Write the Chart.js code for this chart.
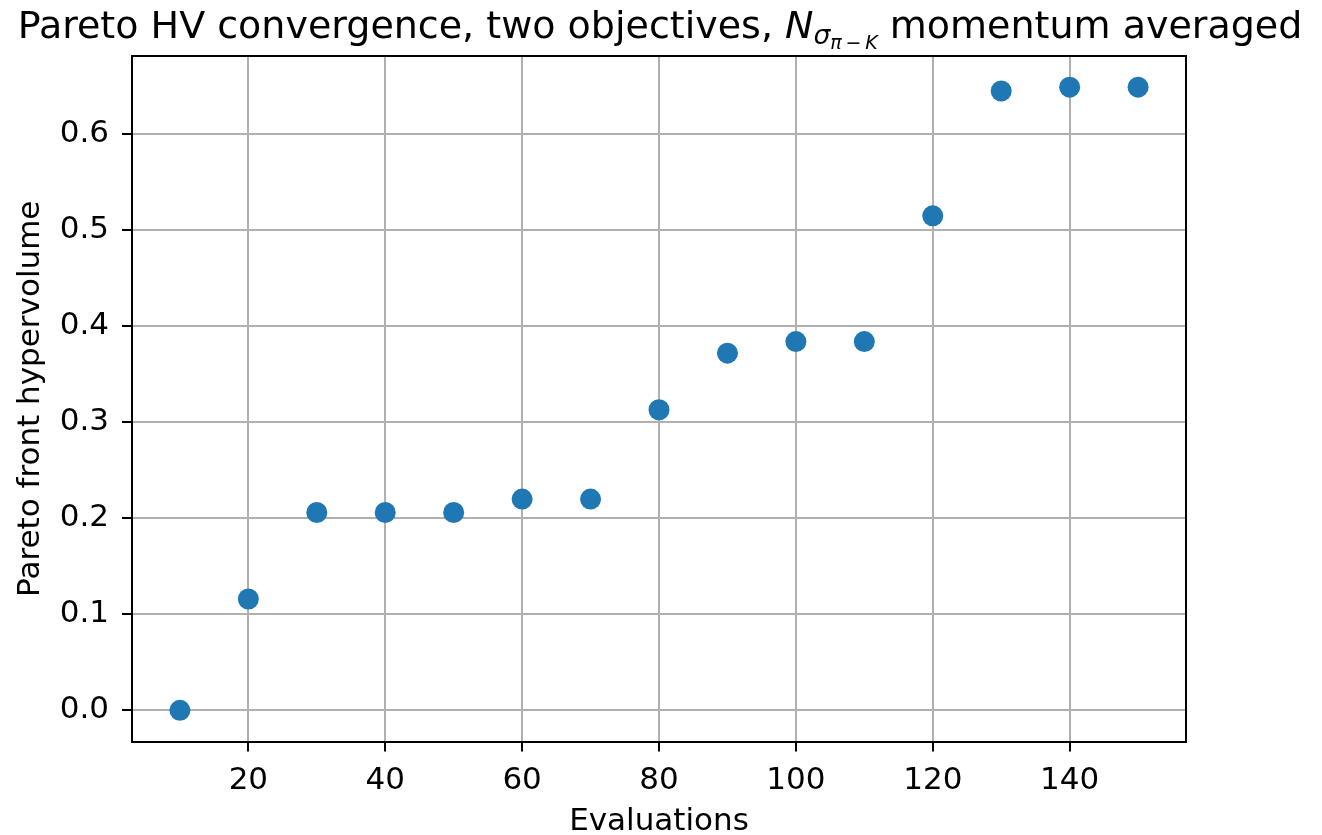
<!DOCTYPE html>
<html>
<head>
<meta charset="utf-8">
<script src="https://cdn.jsdelivr.net/npm/chart.js@4"></script>
<style>
  html, body { margin: 0; padding: 0; background: #ffffff; }
  #wrap { width: 1322px; height: 835px; }
</style>
</head>
<body>
<div id="wrap"><canvas id="c" width="1322" height="835"></canvas></div>
<script>
// ---- data ----
const evaluations = [10, 20, 30, 40, 50, 60, 70, 80, 90, 100, 110, 120, 130, 140, 150];
const hypervolume = [0.000, 0.116, 0.206, 0.206, 0.206, 0.220, 0.220, 0.313, 0.372, 0.384, 0.384, 0.515, 0.645, 0.649, 0.649];
const xTicks = [20, 40, 60, 80, 100, 120, 140];
const yTicks = [0.0, 0.1, 0.2, 0.3, 0.4, 0.5, 0.6];
const titleParts = ["Pareto HV convergence, two objectives, ", "N", "σ", "π\u2009−\u2009K", " momentum averaged"];
const xLabel = "Evaluations";
const yLabel = "Pareto front hypervolume";

// matplotlib-style 5% margins
const xMinD = Math.min(...evaluations), xMaxD = Math.max(...evaluations);
const yMinD = Math.min(...hypervolume), yMaxD = Math.max(...hypervolume);
const xPad = (xMaxD - xMinD) * 0.05, yPad = (yMaxD - yMinD) * 0.05;

const FONT = "'DejaVu Sans', sans-serif";
const FS = 31;

const framePlugin = {
  id: 'frame',
  afterDatasetsDraw(chart) {
    const {ctx, chartArea: a} = chart;
    ctx.save();
    ctx.strokeStyle = '#000';
    ctx.lineWidth = 2;
    ctx.beginPath();
    ctx.moveTo(a.left, a.top);
    ctx.lineTo(a.right, a.top);
    ctx.lineTo(a.right, a.bottom);
    ctx.stroke();
    ctx.restore();
  }
};

const mathTitlePlugin = {
  id: 'mathTitle',
  afterDraw(chart) {
    const ctx = chart.ctx;
    const size = 38;
    const baseline = 37.5;
    const fNorm = size + "px " + FONT;
    const fIt = "oblique " + size + "px " + FONT;
    const fSub = "oblique " + (size * 0.7).toFixed(1) + "px " + FONT;
    const fSub2 = "oblique " + (size * 0.5).toFixed(1) + "px " + FONT;
    const pieces = [
      {t: titleParts[0], f: fNorm, dy: 0},
      {t: titleParts[1], f: fIt, dy: 0},
      {t: titleParts[2], f: fSub, dy: 6},
      {t: titleParts[3], f: fSub2, dy: 11},
      {t: titleParts[4], f: fNorm, dy: 0}
    ];
    ctx.save();
    let total = 0;
    pieces.forEach(p => { ctx.font = p.f; p.w = ctx.measureText(p.t).width; total += p.w; });
    let x = 660 - total / 2;
    ctx.fillStyle = '#000';
    ctx.textBaseline = 'alphabetic';
    ctx.textAlign = 'left';
    pieces.forEach(p => { ctx.font = p.f; ctx.fillText(p.t, x, baseline + p.dy); x += p.w; });
    ctx.restore();
  }
};

new Chart(document.getElementById('c'), {
  type: 'scatter',
  data: {
    datasets: [{
      data: evaluations.map((x, i) => ({x: x, y: hypervolume[i]})),
      backgroundColor: '#1f77b4',
      borderWidth: 0,
      pointRadius: 10.5,
      pointHoverRadius: 10.5
    }]
  },
  options: {
    responsive: false,
    animation: false,
    events: [],
    layout: { padding: { top: 56, right: 136, bottom: 0, left: 0 } },
    plugins: { legend: { display: false }, tooltip: { enabled: false }, title: { display: false } },
    scales: {
      x: {
        type: 'linear',
        min: xMinD - xPad,
        max: xMaxD + xPad,
        afterFit(s) { s.height = 93.5; },
        afterBuildTicks(s) { s.ticks = xTicks.map(v => ({value: v})); },
        grid: { color: '#b0b0b0', lineWidth: 2, tickColor: '#000', tickLength: 10, tickWidth: 2, drawTicks: true },
        border: { display: true, color: '#000', width: 2 },
        ticks: { font: { family: FONT, size: FS }, color: '#000', padding: 11, maxRotation: 0, callback: v => String(v) },
        title: { display: true, text: xLabel, font: { family: FONT, size: FS, lineHeight: 1 }, color: '#000', padding: { top: 0, bottom: -2 } }
      },
      y: {
        type: 'linear',
        min: yMinD - yPad,
        max: yMaxD + yPad,
        afterFit(s) { s.width = 132; },
        afterBuildTicks(s) { s.ticks = yTicks.map(v => ({value: v})); },
        grid: { color: '#b0b0b0', lineWidth: 2, tickColor: '#000', tickLength: 10, tickWidth: 2, drawTicks: true },
        border: { display: true, color: '#000', width: 2 },
        ticks: { font: { family: FONT, size: FS }, color: '#000', padding: 13, callback: v => Number(v).toFixed(1) },
        title: { display: true, text: yLabel, font: { family: FONT, size: FS, lineHeight: 1 }, color: '#000', padding: { top: 15.5, bottom: 0 } }
      }
    }
  },
  plugins: [framePlugin, mathTitlePlugin]
});
</script>
</body>
</html>
